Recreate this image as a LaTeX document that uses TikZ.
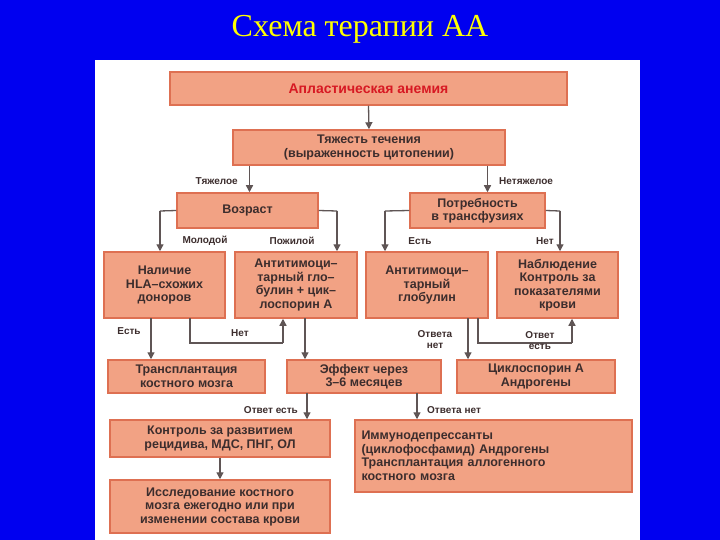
\documentclass[tikz,border=0pt]{standalone}
\usepackage{fontspec}
\setmainfont{Liberation Sans}
\newfontfamily\titlefont{Liberation Serif}
\usetikzlibrary{arrows.meta}
\definecolor{bg}{RGB}{0,0,240}
\definecolor{boxfill}{RGB}{242,162,132}
\definecolor{boxdraw}{RGB}{222,112,82}
\definecolor{ink}{RGB}{60,45,45}
\definecolor{ln}{RGB}{95,85,85}
\begin{document}
\begin{tikzpicture}[x=1pt,y=-1pt,
  box/.style={draw=boxdraw,line width=1.5pt,fill=boxfill,text=ink,font=\fontsize{12.5}{13.5}\selectfont\bfseries,align=center,inner sep=1pt},
  lbl/.style={text=ink,font=\fontsize{10}{11}\selectfont\bfseries,inner sep=1pt},
  con/.style={draw=ln,line width=1.3pt},
  arr/.style={con,-{Triangle[length=7pt,width=7pt]}}]
\useasboundingbox (0,0) rectangle (720,540);
\fill[bg] (0,0) rectangle (720,540);
\fill[white] (95,60) rectangle (640,540);
\node[text={rgb,255:red,255;green,255;blue,0},font=\titlefont\fontsize{32}{34}\selectfont] (title) at (360,29) {Схема терапии АА};
\node[box,minimum width=397,minimum height=33,text={rgb,255:red,215;green,25;blue,35},font=\fontsize{14}{16}\selectfont\bfseries] (a) at (368.5,88.5) {Апластическая анемия};
\node[box,minimum width=272,minimum height=35] (b) at (369,147.5) {Тяжесть течения\\(выраженность цитопении)};
\node[box,minimum width=141,minimum height=35] (v) at (247.5,210.5) {Возраст};
\node[box,minimum width=135,minimum height=35] (p) at (477.5,210.5) {Потребность\\в трансфузиях};
\node[box,minimum width=121,minimum height=66] (n) at (164.5,285) {Наличие\\HLA–схожих\\доноров};
\node[box,minimum width=122,minimum height=66] (t1) at (296,285) {Антитимоци–\\тарный гло–\\булин + цик–\\лоспорин А};
\node[box,minimum width=122,minimum height=66] (t2) at (427,285) {Антитимоци–\\тарный\\глобулин};
\node[box,minimum width=121,minimum height=66] (o) at (557.5,285) {Наблюдение\\Контроль за\\показателями\\крови};
\node[box,minimum width=157,minimum height=33] (tr) at (186.5,376.5) {Трансплантация\\костного мозга};
\node[box,minimum width=154,minimum height=33] (e) at (364,376.5) {Эффект через\\3–6 месяцев};
\node[box,minimum width=158,minimum height=33] (c) at (536,376.5) {Циклоспорин А\\Андрогены};
\node[box,minimum width=220,minimum height=37] (k) at (220,438.5) {Контроль за развитием\\рецидива, МДС, ПНГ, ОЛ};
\node[box,minimum width=277,minimum height=72,align=left,text width=264] (i) at (493.5,456) {Иммунодепрессанты\\(циклофосфамид) Андрогены\\Трансплантация аллогенного\\костного мозга};
\node[box,minimum width=220,minimum height=53] (s) at (220,506.5) {Исследование костного\\мозга ежегодно или при\\изменении состава крови};
% connectors
\draw[arr] (a.south) -- (b.north);
\draw[arr] (b.south -| v.north) ++(2,0) coordinate (b1) -- (b1 |- v.north);
\draw[arr] (b.south -| p.north) ++(10,0) coordinate (b2) -- (b2 |- p.north);
\node[lbl,anchor=east] (l1) at (239,181) {Тяжелое};
\node[lbl,anchor=west] (l2) at (498,181) {Нетяжелое};
\coordinate (v1) at (160,211); \coordinate (v2) at (337,211);
\draw[con] (v.west) -- (v1); \draw[arr] (v1) -- (v1 |- n.north);
\draw[con] (v.east) -- (v2); \draw[arr] (v2) -- (v2 |- t1.north);
\node[lbl] (l3) at (205,241) {Молодой};
\node[lbl] (l4) at (292,241) {Пожилой};
\coordinate (p1) at (385,211); \coordinate (p2) at (560,211);
\draw[con] (p.west) -- (p1); \draw[arr] (p1) -- (p1 |- t2.north);
\draw[con] (p.east) -- (p2); \draw[arr] (p2) -- (p2 |- o.north);
\node[lbl] (l5) at (420,241) {Есть};
\node[lbl] (l6) at (545,241) {Нет};
\coordinate (n1) at (151,318);
\draw[arr] (n1) -- (n1 |- tr.north);
\node[lbl] (l7) at (129,331) {Есть};
\coordinate (n2) at (190,318); \coordinate (n3) at (190,343); \coordinate (n4) at (283,343);
\draw[con] (n2) -- (n3) -- (n4); \draw[arr] (n4) -- (n4 |- t1.south);
\node[lbl] (l8) at (240,333) {Нет};
\coordinate (t1b) at (305,318);
\draw[arr] (t1b) -- (t1b |- e.north);
\coordinate (t2a) at (468,318);
\draw[arr] (t2a) -- (t2a |- c.north);
\node[lbl,align=center,font=\fontsize{10}{11}\selectfont\bfseries] (l9) at (435,340) {Ответа\\нет};
\coordinate (t2b) at (478,318); \coordinate (t2c) at (478,343); \coordinate (t2d) at (572,343);
\draw[con] (t2b) -- (t2c) -- (t2d); \draw[arr] (t2d) -- (t2d |- o.south);
\node[lbl,align=center,font=\fontsize{10}{11}\selectfont\bfseries] (l10) at (540,341) {Ответ\\есть};
\coordinate (e1) at (307,393);
\draw[arr] (e1) -- (e1 |- k.north);
\node[lbl,anchor=east] (l11) at (299,410) {Ответ есть};
\coordinate (e2) at (417,393);
\draw[arr] (e2) -- (e2 |- i.north);
\node[lbl,anchor=west] (l12) at (426,410) {Ответа нет};
\draw[arr] (k.south) -- (s.north);
\end{tikzpicture}
\end{document}
